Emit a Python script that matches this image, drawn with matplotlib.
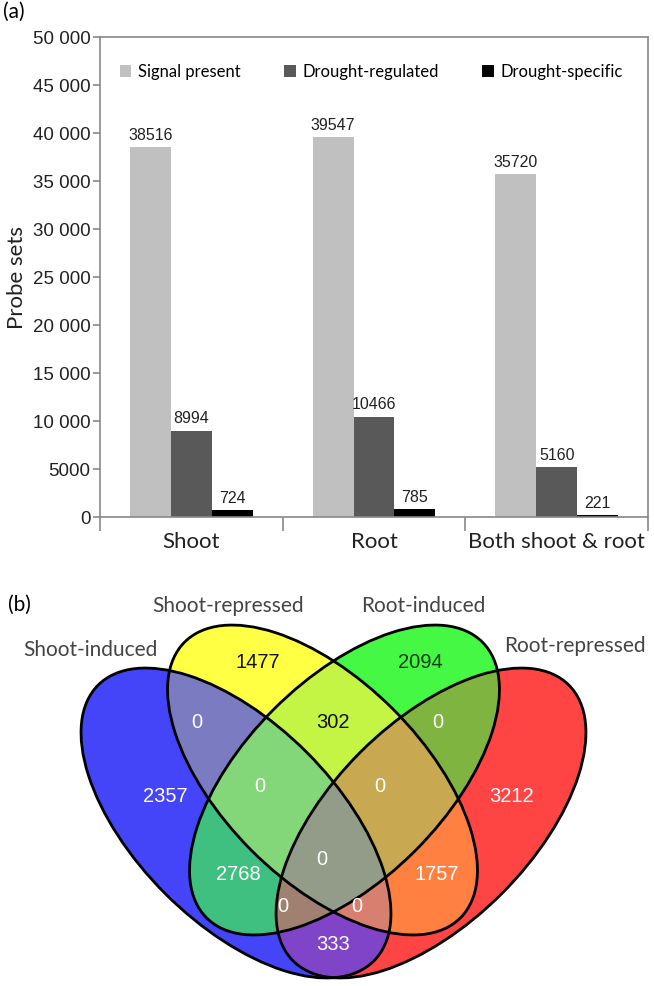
import matplotlib.pyplot as plt
import numpy as np
from matplotlib.patches import Ellipse
from matplotlib.ticker import FuncFormatter

# ---- panel (a): bar chart data ----
categories = ["Shoot", "Root", "Both shoot & root"]
series_names = ["Signal present", "Drought-regulated", "Drought-specific"]
signal_present = [38516, 39547, 35720]
drought_regulated = [8994, 10466, 5160]
drought_specific = [724, 785, 221]
bar_colors = ["#c0c0c0", "#595959", "#000000"]

# ---- panel (b): Venn data (membership: shoot-ind, shoot-rep, root-ind, root-rep) ----
set_names = ["Shoot-induced", "Shoot-repressed", "Root-induced", "Root-repressed"]
region_keys = ["1000", "0100", "0010", "0001", "1100", "0110", "0011", "1110",
               "0111", "1111", "1010", "0101", "1011", "1101", "1001"]
region_counts = [2357, 1477, 2094, 3212, 0, 302, 0, 0,
                 0, 0, 2768, 1757, 0, 0, 333]

# layout of the Venn (pixel-like coordinates of the lower panel)
label_pos = {
    "1000": (165, 797), "0100": (258, 663), "0010": (420, 663), "0001": (512, 797),
    "1100": (197, 723), "0110": (333, 723), "0011": (438, 723), "1110": (260, 787),
    "0111": (380, 787), "1111": (322, 860), "1010": (238, 875), "0101": (437, 875),
    "1011": (283, 907), "1101": (357, 907), "1001": (333, 945),
}
dark_text = {"0100": "#111111", "0010": "#0b3d0b", "0110": "#111111"}
region_colors = {
    "1000": "#4444f8", "0100": "#ffff44", "0010": "#44f844", "0001": "#ff4444",
    "1100": "#7b7bc2", "0110": "#c4f444", "0011": "#7fb540", "1110": "#84d878",
    "0111": "#c8a850", "1111": "#929c88", "1010": "#40c080", "0101": "#ff8040",
    "1011": "#a08070", "1101": "#d88070", "1001": "#8044c8",
}
ell_a, ell_b = 195, 100
ellipses = [(236, 823, 45), (322.5, 780, 45), (344.5, 780, 135), (431, 823, 135)]
name_pos = [(90, 650), (228, 606), (423, 606), (575, 646)]

fig = plt.figure(figsize=(6.54, 9.86), dpi=100)

# ================= panel (a) =================
ax = fig.add_axes([100 / 654, 1 - 517 / 986, 548 / 654, 480 / 986])
x = np.arange(len(categories))
w = 0.224
for i, (vals, name, col) in enumerate(zip([signal_present, drought_regulated, drought_specific],
                                          series_names, bar_colors)):
    bars = ax.bar(x + (i - 1) * w, vals, w, color=col, label=name)
    ax.bar_label(bars, padding=3, fontsize=11.5, family="Liberation Sans", color="#222222")

ax.set_xlim(-0.5, 2.5)
ax.set_ylim(0, 50000)
ax.set_yticks(np.arange(0, 50001, 5000))
ax.yaxis.set_major_formatter(FuncFormatter(
    lambda v, p: f"{int(v):,}".replace(",", " ") if v >= 10000 else f"{int(v)}"))
for lab in ax.get_yticklabels():
    lab.set_family("Liberation Sans")
ax.tick_params(axis="y", labelsize=13.5, length=5, color="#888888", width=1.2, pad=2,
               labelcolor="#222222")

ax.set_xticks([-0.5, 0.5, 1.5, 2.5])
ax.set_xticklabels([])
ax.set_xticks(x, minor=True)
ax.set_xticklabels(categories, minor=True, fontsize=16, family="Lato", color="#222222")
ax.tick_params(axis="x", which="major", length=10, color="#888888", width=1.2)
ax.tick_params(axis="x", which="minor", length=0, pad=11)

for s in ax.spines.values():
    s.set_color("#888888")
    s.set_linewidth(1.2)

ax.set_ylabel("Probe sets", fontsize=16, family="Lato", labelpad=4, color="#222222")
ax.legend(loc="center", bbox_to_anchor=(0.495, 0.927), ncol=3, frameon=False,
          prop={"family": "Lato", "size": 12}, handlelength=0.7, handleheight=0.7,
          handletextpad=0.4, columnspacing=2.6)
fig.text(3 / 654, 1 - 12 / 986, "(a)", fontsize=15, family="Lato", va="center")

# ================= panel (b) =================
axv = fig.add_axes([0, 0, 1, 396 / 986])
axv.set_xlim(0, 654)
axv.set_ylim(986, 590)
axv.axis("off")

xs = np.arange(0, 654, 0.5) + 0.25
ys = np.arange(590, 986, 0.5) + 0.25
X, Y = np.meshgrid(xs, ys)
code = np.zeros(X.shape, dtype=int)
for k, (cx, cy, ang) in enumerate(ellipses):
    t = np.deg2rad(ang)
    dx, dy = X - cx, Y - cy
    u = dx * np.cos(t) + dy * np.sin(t)
    v = -dx * np.sin(t) + dy * np.cos(t)
    code |= ((u / ell_a) ** 2 + (v / ell_b) ** 2 <= 1).astype(int) << k

rgba = np.zeros(X.shape + (4,))
for key, col in region_colors.items():
    bits = sum(1 << k for k, ch in enumerate(key) if ch == "1")
    rgba[code == bits] = plt.matplotlib.colors.to_rgba(col)
axv.imshow(rgba, extent=(0, 654, 986, 590), origin="upper", interpolation="antialiased",
           aspect="auto")

for cx, cy, ang in ellipses:
    axv.add_patch(Ellipse((cx, cy), 2 * ell_a, 2 * ell_b, angle=ang, fill=False,
                          edgecolor="black", lw=2))

for key, n in zip(region_keys, region_counts):
    px, py = label_pos[key]
    axv.text(px, py, str(n), ha="center", va="center", fontsize=14.5,
             family="Liberation Sans", color=dark_text.get(key, "white"))

for name, (px, py) in zip(set_names, name_pos):
    axv.text(px, py, name, ha="center", va="center", fontsize=15, family="Lato",
             color="#444444")
axv.text(8, 605, "(b)", fontsize=15, family="Lato", va="center")

plt.savefig("out.png", dpi=100)
